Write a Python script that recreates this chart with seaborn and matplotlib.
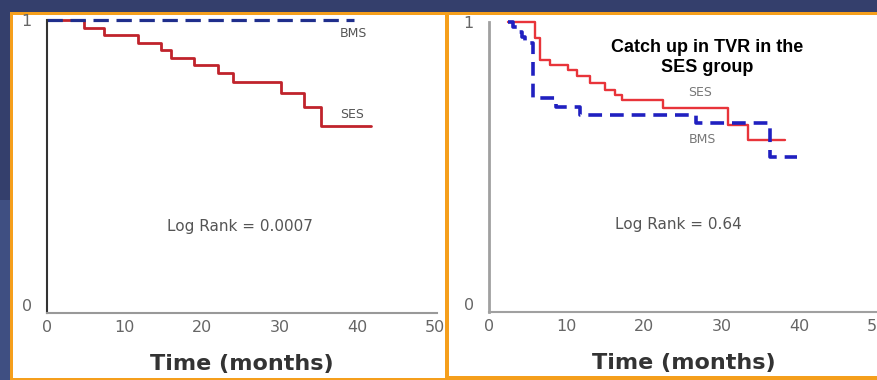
import matplotlib
matplotlib.use("Agg")
import matplotlib.pyplot as plt
from matplotlib.patches import Rectangle
import seaborn as sns

# ---------------- data ----------------
left_ses_time = [0, 4.8, 7.4, 11.7, 14.7, 16.0, 19.0, 22.0, 24.0, 30.2, 33.2, 35.4, 41.8]
left_ses_surv = [1.0, 0.971, 0.947, 0.918, 0.895, 0.866, 0.842, 0.813, 0.784, 0.743, 0.696, 0.628, 0.628]
left_bms_time = [0, 39.6]
left_bms_surv = [1.0, 1.0]

right_ses_time = [2.5, 5.9, 6.6, 7.9, 10.2, 11.3, 13.0, 15.0, 16.3, 17.1, 22.5, 30.8, 33.4, 38.2]
right_ses_surv = [1.0, 0.942, 0.866, 0.848, 0.830, 0.807, 0.783, 0.760, 0.742, 0.724, 0.695, 0.636, 0.583, 0.583]
right_bms_time = [2.5, 3.1, 3.6, 4.2, 4.6, 5.7, 8.7, 11.7, 26.7, 36.2, 39.7]
right_bms_surv = [1.0, 0.983, 0.965, 0.948, 0.924, 0.730, 0.700, 0.671, 0.643, 0.523, 0.523]

x_ticks = [0, 10, 20, 30, 40, 50]
y_ticks = [0, 1]
x_label = "Time (months)"
left_pvalue = "Log Rank = 0.0007"
right_pvalue = "Log Rank = 0.64"
annotation = "Catch up in TVR in the\nSES group"
series_names = ["SES", "BMS"]

# ---------------- figure ----------------
sns.set_style("white")
plt.rcParams["font.family"] = ["DejaVu Sans"]

W, H = 877, 380
NAVY = "#343f6c"
ORANGE = "#f59f1c"
fig = plt.figure(figsize=(W / 100, H / 100), dpi=100, facecolor=NAVY)


def rect(x0, y0, x1, y1, color):
    fig.patches.append(Rectangle((x0 / W, 1 - y1 / H), (x1 - x0) / W, (y1 - y0) / H,
                                 transform=fig.transFigure, facecolor=color,
                                 edgecolor="none", zorder=-5))


# background decoration: lighter left strip, white panels, orange borders
rect(0, 200, 10, 380, "#3f4f82")
rect(13, 15, 445, 380, "white")
rect(449, 15, 877, 376, "white")
rect(10, 12, 877, 15, ORANGE)
rect(10, 12, 13, 380, ORANGE)
rect(445, 12, 449, 380, ORANGE)
rect(13, 378, 445, 380, ORANGE)
rect(449, 376, 877, 380, ORANGE)


def ax_box(x0, y0, x1, y1):
    return [x0 / W, 1 - y1 / H, (x1 - x0) / W, (y1 - y0) / H]


axL = fig.add_axes(ax_box(47, 20, 437, 313))
axR = fig.add_axes(ax_box(489, 22, 879, 312))

for ax in (axL, axR):
    ax.set_facecolor("none")
    ax.set_xlim(0, 50.3)
    ax.set_ylim(-0.028, 1.0)
    ax.set_xticks(x_ticks)
    ax.set_yticks(y_ticks)
    ax.set_yticklabels([str(v) for v in y_ticks])
    ax.tick_params(axis="both", length=0, labelsize=11.5, labelcolor="#666666")
    ax.tick_params(axis="x", pad=5)
    ax.tick_params(axis="y", pad=11)
    for s in ("top", "right"):
        ax.spines[s].set_visible(False)
    ax.set_xlabel(x_label, fontsize=16, fontweight="bold", color="#333333", labelpad=14)
    ax.set_ylabel("")

axL.spines["left"].set_color("#333333")
axL.spines["left"].set_linewidth(1.5)
axL.spines["bottom"].set_color("#999999")
axL.spines["bottom"].set_linewidth(1.5)
axR.spines["left"].set_color("#a0a0a0")
axR.spines["left"].set_linewidth(2)
axR.spines["bottom"].set_color("#a0a0a0")
axR.spines["bottom"].set_linewidth(1.5)

# ---- left panel ----
sns.lineplot(x=left_ses_time, y=left_ses_surv, ax=axL, drawstyle="steps-post",
             color="#c0232b", linewidth=2.0, estimator=None, sort=False, clip_on=False)
sns.lineplot(x=left_bms_time, y=left_bms_surv, ax=axL, drawstyle="steps-post",
             color="#1f2e8c", linewidth=2.3, linestyle=(0, (4.8, 2.4)),
             estimator=None, sort=False, clip_on=False)
axL.text(39.5, 0.954, series_names[1], fontsize=9, color="#555555", ha="center", va="center")
axL.text(39.4, 0.667, series_names[0], fontsize=9, color="#555555", ha="center", va="center")
axL.text(24.9, 0.277, left_pvalue, fontsize=11, color="#555555", ha="center", va="center")

# ---- right panel ----
sns.lineplot(x=right_ses_time, y=right_ses_surv, ax=axR, drawstyle="steps-post",
             color="#e8343a", linewidth=1.7, estimator=None, sort=False, clip_on=False)
sns.lineplot(x=right_bms_time, y=right_bms_surv, ax=axR, drawstyle="steps-post",
             color="#2020c0", linewidth=2.6, linestyle=(0, (3.8, 2.2)),
             estimator=None, sort=False, clip_on=False)
axR.text(27.2, 0.749, series_names[0], fontsize=9, color="#777777", ha="center", va="center")
axR.text(27.5, 0.583, series_names[1], fontsize=9, color="#777777", ha="center", va="center")
axR.text(24.4, 0.283, right_pvalue, fontsize=11, color="#555555", ha="center", va="center")
axR.text(28.1, 0.875, annotation, fontsize=13, fontweight="bold", color="black",
         ha="center", va="center", linespacing=1.25, family=["Liberation Sans", "DejaVu Sans"])

fig.savefig("out.png", dpi=100, facecolor=NAVY)
